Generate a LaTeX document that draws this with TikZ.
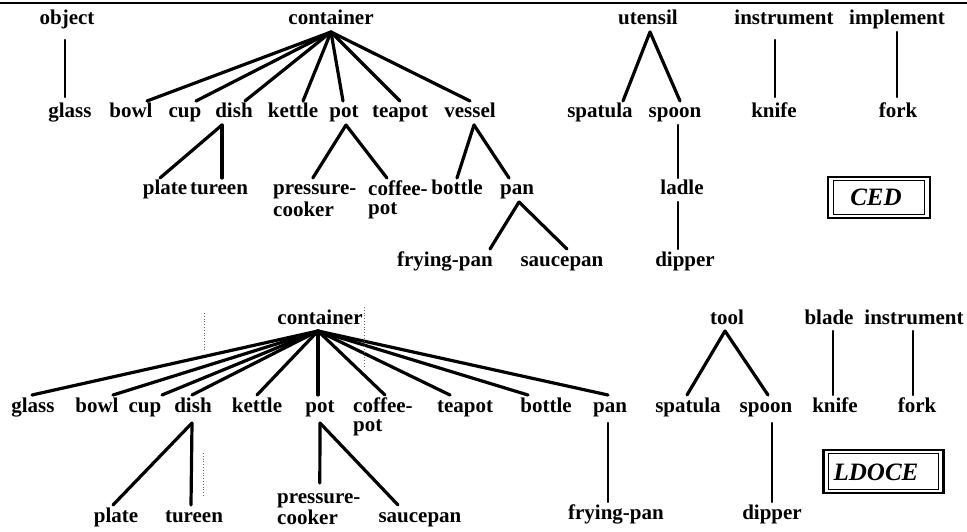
\documentclass[tikz,border=0pt]{standalone}
\usepackage{fontspec}
\setmainfont{Liberation Serif}
\begin{document}
\begin{tikzpicture}[x=1pt,y=-1pt,
  word/.style={font=\fontsize{21}{18}\selectfont\bfseries, inner sep=0pt,
    text height=14pt, text depth=4pt, outer ysep=3pt, anchor=base},
  stack/.style={font=\fontsize{21}{18}\selectfont\bfseries, inner sep=0pt,
    outer ysep=3pt, align=left, anchor=north west},
  link/.style={line width=3.2pt, line cap=round},
  stemline/.style={line width=2.4pt, line cap=round},
  dictname/.style={font=\fontsize{25}{25}\selectfont\bfseries\itshape, inner sep=0pt,
    text height=17pt, text depth=0pt, anchor=base},
  speck/.style={black!60, line width=0.8pt, dotted}]
\useasboundingbox (0,0) rectangle (967,532);

% rule along the top edge
\draw[line width=2pt] (0,3) -- (967,3);

% ---------------- CED hierarchy ----------------
\node[word] (obj1)  at (67,25)  {object};
\node[word] (cont1) at (331,25) {container};
\node[word] (ut1)   at (648,25) {utensil};
\node[word] (ins1)  at (784,25) {instrument};
\node[word] (imp1)  at (897,25) {implement};

\node[word] (glass1)   at (70,118)  {glass};
\node[word] (bowl1)    at (131,118) {bowl};
\node[word] (cup1)     at (185,118) {cup};
\node[word] (dish1)    at (234,118) {dish};
\node[word] (kettle1)  at (293,118) {kettle};
\node[word] (pot1)     at (344,118) {pot};
\node[word] (teapot1)  at (400,118) {teapot};
\node[word] (vessel1)  at (470,118) {vessel};
\node[word] (spatula1) at (600,118) {spatula};
\node[word] (spoon1)   at (675,118) {spoon};
\node[word] (knife1)   at (774,118) {knife};
\node[word] (fork1)    at (898,118) {fork};

\node[word]  (plate1)  at (165,195) {plate};
\node[word]  (tureen1) at (219,195) {tureen};
\node[stack] (pc1)     at (273,178) {\rule{0pt}{14pt}pressure-\\[1pt]cooker};
\node[stack] (cp1)     at (368,178) {\rule{0pt}{14pt}coffee-\\[1pt]pot};
\node[word]  (bottle1) at (457,195) {bottle};
\node[word]  (pan1)    at (517,195) {pan};
\node[word]  (ladle1)  at (682,195) {ladle};

\node[word] (fry1)    at (445,266) {frying-pan};
\node[word] (sauce1)  at (562,266) {saucepan};
\node[word] (dipper1) at (685,266) {dipper};

\draw[stemline] ([xshift=-2pt,yshift=-8pt]obj1.south) -- ([xshift=-5pt,yshift=4pt]glass1.north);
\foreach \c/\dx in {bowl1/16, cup1/11, dish1/11, kettle1/10, pot1/-1, teapot1/0, vessel1/0}
  \draw[link] (cont1.south) -- ([xshift=\dx pt]\c.north);
\draw[link] ([xshift=-12pt]dish1.south) -- ([xshift=-5pt]plate1.north);
\draw[link] ([xshift=-12pt]dish1.south) -- ([xshift=3pt]tureen1.north);
\draw[link] ([xshift=2pt]pot1.south) -- ([xshift=-2pt]pc1.north);
\draw[link] ([xshift=2pt]pot1.south) -- ([xshift=-11pt]cp1.north);
\draw[link] ([xshift=4pt]vessel1.south) -- (bottle1.north);
\draw[link] ([xshift=4pt]vessel1.south) -- ([xshift=-8pt]pan1.north);
\draw[link] ([xshift=2pt]pan1.south) -- ([xshift=45pt]fry1.north);
\draw[link] ([xshift=2pt]pan1.south) -- ([xshift=5pt]sauce1.north);
\draw[link] ([xshift=2pt]ut1.south) -- ([xshift=23pt]spatula1.north);
\draw[link] ([xshift=2pt]ut1.south) -- ([xshift=5pt]spoon1.north);
\draw[stemline] ([xshift=3pt]spoon1.south) -- ([xshift=-4pt]ladle1.north);
\draw[stemline] ([xshift=-4pt]ladle1.south) -- ([xshift=-7pt]dipper1.north);
\draw[stemline] ([xshift=-9pt,yshift=-8pt]ins1.south) -- ([xshift=1pt,yshift=4pt]knife1.north);
\draw[stemline] (imp1.south) -- ([xshift=-1pt,yshift=4pt]fork1.north);

\node[dictname] (ced) at (876,205) {CED};
\draw[line width=2.4pt] ([shift={(-22pt,-13pt)}]ced.south west) rectangle ([shift={(28pt,11pt)}]ced.north east);
\draw[line width=1pt] ([shift={(-17pt,-9pt)}]ced.south west) rectangle ([shift={(23pt,7pt)}]ced.north east);

% ---------------- LDOCE hierarchy ----------------
\node[word] (cont2)  at (320,324) {container};
\node[word] (tool2)  at (727,324) {tool};
\node[word] (blade2) at (829,324) {blade};
\node[word] (ins2)   at (914,324) {instrument};

\node[word]  (glass2)   at (33,412)  {glass};
\node[word]  (bowl2)    at (97,412)  {bowl};
\node[word]  (cup2)     at (145,412) {cup};
\node[word]  (dish2)    at (193,412) {dish};
\node[word]  (kettle2)  at (257,412) {kettle};
\node[word]  (pot2)     at (320,412) {pot};
\node[stack] (cp2)      at (353,395) {\rule{0pt}{14pt}coffee-\\[1pt]pot};
\node[word]  (teapot2)  at (465,412) {teapot};
\node[word]  (bottle2)  at (546,412) {bottle};
\node[word]  (pan2)     at (610,412) {pan};
\node[word]  (spatula2) at (688,412) {spatula};
\node[word]  (spoon2)   at (766,412) {spoon};
\node[word]  (knife2)   at (835,412) {knife};
\node[word]  (fork2)    at (917,412) {fork};

\node[word]  (plate2)  at (116,522) {plate};
\node[word]  (tureen2) at (194,522) {tureen};
\node[stack] (pc2)     at (277,486) {\rule{0pt}{14pt}pressure-\\[1pt]cooker};
\node[word]  (sauce2)  at (420,522) {saucepan};
\node[word]  (fry2)    at (616,519) {frying-pan};
\node[word]  (dipper2) at (772,519) {dipper};

\foreach \c/\dx in {glass2/-1, bowl2/16, cup2/17, dish2/-1, kettle2/0, pot2/-2, cp2/2, teapot2/-15, bottle2/-18, pan2/-2}
  \draw[link] ([xshift=-2pt]cont2.south) -- ([xshift=\dx pt]\c.north);
\draw[link] ([xshift=-1pt,yshift=-4pt]dish2.south) -- ([xshift=-3pt]plate2.north);
\draw[link] ([xshift=-1pt,yshift=-4pt]dish2.south) -- ([xshift=-3pt]tureen2.north);
\draw[link] ([yshift=-4pt]pot2.south) -- ([xshift=1pt,yshift=3pt]pc2.north);
\draw[link] ([yshift=-4pt]pot2.south) -- ([xshift=-22pt]sauce2.north);
\draw[stemline] ([xshift=-2pt,yshift=-4pt]pan2.south) -- ([xshift=-8pt]fry2.north);
\draw[link] ([xshift=-2pt]tool2.south) -- ([xshift=-1pt]spatula2.north);
\draw[link] ([xshift=-2pt]tool2.south) -- ([xshift=2pt]spoon2.north);
\draw[stemline] ([xshift=6pt,yshift=-4pt]spoon2.south) -- (dipper2.north);
\draw[stemline] ([xshift=4pt]blade2.south) -- ([xshift=-2pt]knife2.north);
\draw[stemline] ([xshift=-1pt]ins2.south) -- ([xshift=-4pt]fork2.north);

\node[dictname] (ldoce) at (876,480) {LDOCE};
\draw[line width=2.4pt] ([shift={(-10pt,-13pt)}]ldoce.south west) rectangle ([shift={(25pt,13pt)}]ldoce.north east);
\draw[line width=1pt] ([shift={(-5pt,-9pt)}]ldoce.south west) rectangle ([shift={(20pt,9pt)}]ldoce.north east);

% faint dotted marks of the printed sheet
\draw[speck] (204,313) -- (204,350);
\draw[speck] (364,307) -- (364,367);
\draw[speck] (203,453) -- (203,497);
\end{tikzpicture}
\end{document}
